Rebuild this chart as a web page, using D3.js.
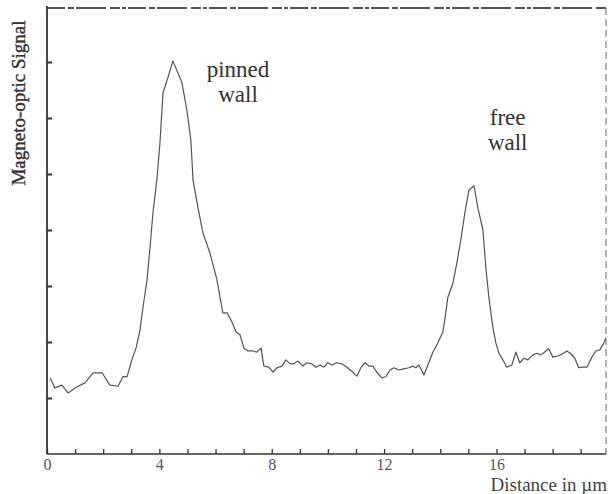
<!DOCTYPE html>
<html>
<head>
<meta charset="utf-8">
<script src="https://cdn.jsdelivr.net/npm/d3@7"></script>
<style>
  body { margin: 0; background: #fff; }
  svg text { font-family: "Liberation Serif", "DejaVu Serif", serif; }
</style>
</head>
<body>
<script>
// Distance in micrometres
var distance = [0.11, 0.28, 0.53, 0.75, 1.07, 1.35, 1.64, 1.96, 2.24, 2.53, 2.70, 2.85,
  3.02, 3.17, 3.31, 3.42, 3.56, 3.67, 3.77, 3.91, 4.02, 4.13, 4.31, 4.48, 4.80, 4.98,
  5.12, 5.20, 5.37, 5.55, 5.80, 6.05, 6.26, 6.41, 6.58, 6.73, 6.87, 7.01, 7.15, 7.33,
  7.47, 7.62, 7.72, 7.90, 8.04, 8.19, 8.36, 8.51, 8.65, 8.79, 8.93, 9.11, 9.25, 9.43,
  9.57, 9.72, 9.86, 10.00, 10.14, 10.32, 10.50, 10.68, 10.89, 11.03, 11.17, 11.32,
  11.46, 11.60, 11.74, 11.92, 12.06, 12.21, 12.35, 12.53, 12.70, 12.88, 13.02, 13.13,
  13.24, 13.42, 13.56, 13.74, 13.91, 14.09, 14.16, 14.27, 14.45, 14.59, 14.73, 14.88,
  15.02, 15.20, 15.34, 15.52, 15.62, 15.73, 15.87, 15.98, 16.09, 16.23, 16.37, 16.55,
  16.69, 16.83, 16.98, 17.12, 17.30, 17.44, 17.58, 17.72, 17.86, 18.01, 18.19, 18.36,
  18.51, 18.65, 18.79, 18.93, 19.07, 19.22, 19.40, 19.54, 19.68, 19.82, 19.96];

// Magneto-optic signal (arbitrary units, one unit per y tick)
var signal = [1.36, 1.18, 1.23, 1.09, 1.20, 1.27, 1.45, 1.45, 1.23, 1.21, 1.38, 1.38,
  1.68, 1.89, 2.21, 2.63, 3.11, 3.70, 4.30, 4.89, 5.55, 6.45, 6.73, 7.02, 6.64, 6.14,
  5.61, 4.89, 4.41, 3.95, 3.59, 3.11, 2.52, 2.52, 2.36, 2.18, 2.13, 1.89, 1.84, 1.84,
  1.82, 1.89, 1.57, 1.55, 1.46, 1.54, 1.57, 1.68, 1.61, 1.61, 1.66, 1.57, 1.63, 1.61,
  1.55, 1.59, 1.55, 1.63, 1.59, 1.63, 1.61, 1.55, 1.46, 1.39, 1.54, 1.63,
  1.57, 1.57, 1.46, 1.36, 1.38, 1.50, 1.54, 1.50, 1.52, 1.54, 1.57, 1.54,
  1.59, 1.41, 1.59, 1.82, 1.98, 2.18, 2.39, 2.80, 3.05, 3.41, 3.82, 4.32,
  4.71, 4.79, 4.39, 4.00, 3.34, 2.80, 2.27, 1.98, 1.80, 1.68, 1.55, 1.59,
  1.82, 1.63, 1.71, 1.68, 1.77, 1.80, 1.77, 1.82, 1.88, 1.73, 1.75, 1.79,
  1.84, 1.79, 1.71, 1.54, 1.55, 1.55, 1.73, 1.84, 1.86, 1.98, 2.13];

var xTicks = d3.range(0, 20);
var xLabels = [0, 4, 8, 12, 16];
var yTicks = d3.range(1, 8);

var annotations = [
  { lines: ["pinned", "wall"], x: 6.8, y: 6.73 },
  { lines: ["free", "wall"], x: 16.4, y: 5.87 }
];

var width = 614, height = 494;
var plotLeft = 47, plotRight = 606, plotTop = 6, plotBottom = 454;

var svg = d3.select("body").append("svg")
  .attr("width", width)
  .attr("height", height);

var x = d3.scaleLinear().domain([0, 19.9]).range([plotLeft, plotRight]);
var y = d3.scaleLinear().domain([0, 8]).range([plotBottom, plotTop]);

svg.append("defs").append("clipPath").attr("id", "plot")
  .append("rect")
  .attr("x", plotLeft).attr("y", plotTop)
  .attr("width", plotRight - plotLeft).attr("height", plotBottom - plotTop);

// frame: broken top edge and dashed right edge like the print
svg.append("line")
  .attr("x1", plotLeft).attr("x2", plotRight + 1)
  .attr("y1", plotTop + 2).attr("y2", plotTop + 2)
  .attr("stroke", "#555")
  .attr("stroke-width", 2)
  .attr("stroke-dasharray", "18,3,6,2,30,4,10,2,4,2");

svg.append("line")
  .attr("x1", plotRight).attr("x2", plotRight)
  .attr("y1", plotTop + 2).attr("y2", plotBottom)
  .attr("stroke", "#666")
  .attr("stroke-width", 1)
  .attr("stroke-dasharray", "7,4");

var xAxis = d3.axisBottom(x)
  .tickValues(xTicks)
  .tickSize(-5)
  .tickPadding(5)
  .tickFormat(function(d) { return xLabels.indexOf(d) >= 0 ? d : ""; });

var gx = svg.append("g")
  .attr("transform", "translate(0," + plotBottom + ")")
  .call(xAxis);
gx.select(".domain").attr("stroke", "#333").attr("stroke-width", 1.6)
  .attr("d", "M" + plotLeft + ",0H" + plotRight);
gx.selectAll(".tick line").attr("stroke", "#333").attr("stroke-width", 1.3);
gx.selectAll(".tick text")
  .attr("fill", "#555")
  .style("font-size", "16px")
  .style("font-family", "'Liberation Serif', serif");

var yAxis = d3.axisLeft(y)
  .tickValues(yTicks)
  .tickSize(-5)
  .tickFormat("");

var gy = svg.append("g")
  .attr("transform", "translate(" + plotLeft + ",0)")
  .call(yAxis);
gy.select(".domain").attr("stroke", "#333").attr("stroke-width", 1.8)
  .attr("d", "M0," + plotTop + "V" + plotBottom);
gy.selectAll(".tick line").attr("stroke", "#333").attr("stroke-width", 2);

// the trace
var points = distance.map(function(d, i) { return [d, signal[i]]; });

var line = d3.line()
  .x(function(d) { return x(d[0]); })
  .y(function(d) { return y(d[1]); });

svg.append("path")
  .datum(points)
  .attr("clip-path", "url(#plot)")
  .attr("fill", "none")
  .attr("stroke", "#555")
  .attr("stroke-width", 1.2)
  .attr("stroke-linejoin", "round")
  .attr("d", line);

// labels on the peaks
annotations.forEach(function(a) {
  var t = svg.append("text")
    .attr("x", x(a.x))
    .attr("y", y(a.y))
    .attr("text-anchor", "middle")
    .attr("fill", "#333")
    .style("font-size", "23px");
  a.lines.forEach(function(s, i) {
    t.append("tspan")
      .attr("x", x(a.x))
      .attr("dy", i === 0 ? 0 : 25)
      .text(s);
  });
});

svg.append("text")
  .attr("transform", "translate(25,103) rotate(-90)")
  .attr("text-anchor", "middle")
  .attr("fill", "#333")
  .attr("stroke", "#333")
  .attr("stroke-width", 0.4)
  .style("font-size", "19px")
  .text("Magneto-optic Signal");

svg.append("text")
  .attr("x", 607)
  .attr("y", 491)
  .attr("text-anchor", "end")
  .attr("fill", "#444")
  .style("font-size", "19px")
  .text("Distance in µm");
</script>
</body>
</html>
